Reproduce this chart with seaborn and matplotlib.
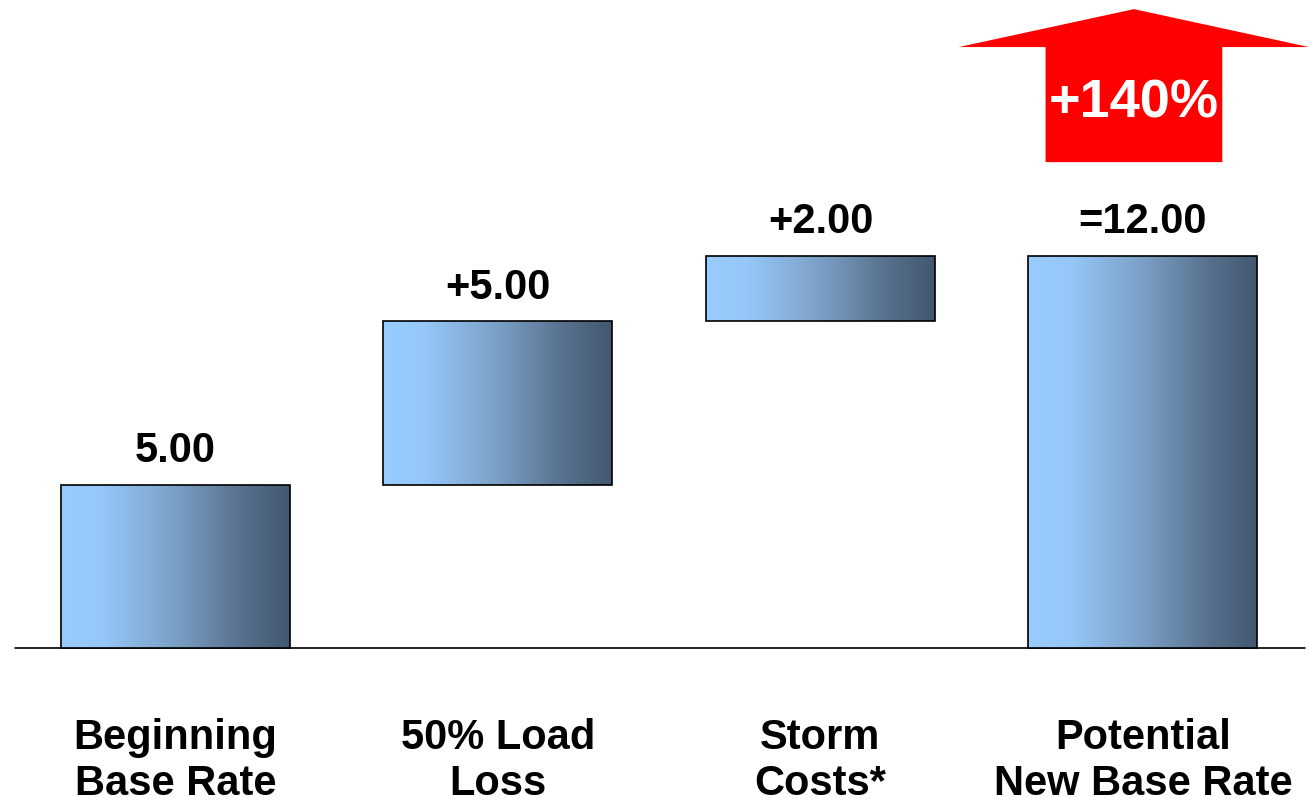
import matplotlib
matplotlib.use('Agg')
import matplotlib.pyplot as plt
import seaborn as sns
import numpy as np
from matplotlib.colors import LinearSegmentedColormap
from matplotlib.patches import Polygon

# waterfall data
categories = ['Beginning\nBase Rate', '50% Load\nLoss', 'Storm\nCosts*', 'Potential\nNew Base Rate']
changes = [5.00, 5.00, 2.00, 12.00]
bases = [0.00, 5.00, 10.00, 0.00]
value_labels = ['5.00', '+5.00', '+2.00', '=12.00']
arrow_label = '+140%'

tops = [b + c for b, c in zip(bases, changes)]

sns.set_style('white')
plt.rcParams['font.family'] = ['Liberation Sans', 'DejaVu Sans']

fig = plt.figure(figsize=(13.1, 8.03), dpi=100)
ax = fig.add_axes([0, 0, 1, 1])

sns.barplot(x=list(range(len(categories))), y=tops, color='#99CCFF', width=0.71, ax=ax)

# left-to-right blue gradient like the original slide
grad = LinearSegmentedColormap.from_list(
    'bluegrad', [(0, '#99CCFF'), (0.18, '#96C7F8'), (0.5, '#7BA0C6'), (0.8, '#566F8C'), (1, '#435870')])
g = np.linspace(0, 1, 256).reshape(1, -1)

bars = [p for p in ax.patches]
for i, p in enumerate(bars):
    p.set_y(bases[i])
    p.set_height(changes[i])
    p.set_facecolor('none')
    p.set_edgecolor('black')
    p.set_linewidth(1.2)
    p.set_zorder(3)
    x0 = p.get_x()
    w = p.get_width()
    im = ax.imshow(g, cmap=grad, aspect='auto', extent=[x0, x0 + w, bases[i], tops[i]], zorder=2)
    im.set_clip_path(p)
    ax.text(x0 + w / 2, tops[i] + 0.72, value_labels[i], ha='center', va='baseline',
            fontsize=30, fontweight='bold', color='black')

# category labels under the baseline
for i, lab in enumerate(categories):
    for j, line in enumerate(lab.split('\n')):
        ax.text(i, -3.06 - j * 1.41, line, ha='center', va='baseline',
                fontsize=30, fontweight='bold', color='black')

ax.axhline(0, xmin=15 / 1310, xmax=1305 / 1310, color='black', lw=1.2, zorder=1)

# big red arrow above the last bar
cx = 2.972
arrow = Polygon([[cx - 0.274, 14.86], [cx - 0.274, 18.38], [cx - 0.543, 18.38], [cx, 19.54],
                 [cx + 0.543, 18.38], [cx + 0.274, 18.38], [cx + 0.274, 14.86]],
                closed=True, facecolor='#FF0000', edgecolor='none', zorder=4)
ax.add_patch(arrow)
ax.text(cx, 16.27, arrow_label, ha='center', va='baseline', fontsize=39,
        fontweight='bold', color='white', zorder=5)

ax.set_xlim(-0.544, 3.518)
ax.set_ylim(-4.71, 19.85)
ax.set_axis_off()

plt.savefig('out.png', dpi=100)
